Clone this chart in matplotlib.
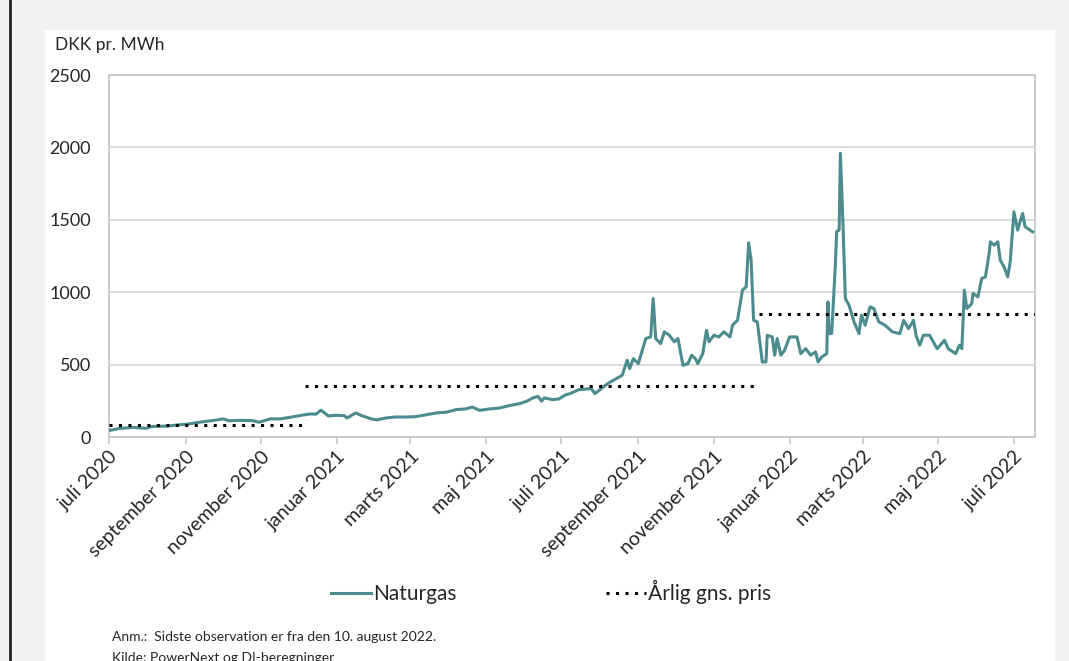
import matplotlib
matplotlib.use("Agg")
import matplotlib.pyplot as plt
import matplotlib.dates as mdates
import matplotlib.ticker as mticker
import pandas as pd

plt.rcParams['font.family'] = ['Lato', 'DejaVu Sans']

# Naturgas, DKK pr. MWh
dates = [
    "2020-07-01", "2020-07-09", "2020-07-20", "2020-07-31", "2020-08-05", "2020-08-16",
    "2020-08-27", "2020-09-04", "2020-09-12", "2020-09-23", "2020-10-01", "2020-10-06",
    "2020-10-14", "2020-10-25", "2020-10-30", "2020-11-08", "2020-11-16", "2020-11-24",
    "2020-12-02", "2020-12-10", "2020-12-15", "2020-12-19", "2020-12-25", "2020-12-31",
    "2021-01-07", "2021-01-09", "2021-01-16", "2021-01-21", "2021-01-29", "2021-02-02",
    "2021-02-09", "2021-02-17", "2021-02-25", "2021-03-05", "2021-03-14", "2021-03-22",
    "2021-03-30", "2021-04-07", "2021-04-15", "2021-04-20", "2021-04-26", "2021-05-04",
    "2021-05-12", "2021-05-20", "2021-05-28", "2021-06-03", "2021-06-08", "2021-06-12",
    "2021-06-15", "2021-06-17", "2021-06-24", "2021-06-29", "2021-07-04", "2021-07-08",
    "2021-07-15", "2021-07-25", "2021-07-28", "2021-08-08", "2021-08-19", "2021-08-23",
    "2021-08-25", "2021-08-28", "2021-09-01", "2021-09-07", "2021-09-11", "2021-09-13",
    "2021-09-15", "2021-09-19", "2021-09-22", "2021-09-26", "2021-09-30", "2021-10-03",
    "2021-10-07", "2021-10-11", "2021-10-14", "2021-10-17", "2021-10-19", "2021-10-23",
    "2021-10-26", "2021-10-28", "2021-11-01", "2021-11-05", "2021-11-09", "2021-11-14",
    "2021-11-16", "2021-11-20", "2021-11-24", "2021-11-27", "2021-11-29", "2021-12-01",
    "2021-12-03", "2021-12-06", "2021-12-10", "2021-12-13", "2021-12-14", "2021-12-18",
    "2021-12-20", "2021-12-22", "2021-12-25", "2021-12-28", "2022-01-01", "2022-01-07",
    "2022-01-10", "2022-01-14", "2022-01-18", "2022-01-22", "2022-01-24", "2022-01-27",
    "2022-01-31", "2022-02-01", "2022-02-02", "2022-02-04", "2022-02-07", "2022-02-08",
    "2022-02-10", "2022-02-11", "2022-02-13", "2022-02-15", "2022-02-18", "2022-02-22",
    "2022-02-26", "2022-02-28", "2022-03-03", "2022-03-07", "2022-03-10", "2022-03-14",
    "2022-03-19", "2022-03-25", "2022-03-31", "2022-04-03", "2022-04-07", "2022-04-11",
    "2022-04-13", "2022-04-16", "2022-04-19", "2022-04-24", "2022-04-30", "2022-05-06",
    "2022-05-09", "2022-05-15", "2022-05-18", "2022-05-20", "2022-05-22", "2022-05-24",
    "2022-05-28", "2022-05-29", "2022-06-02", "2022-06-05", "2022-06-08", "2022-06-11",
    "2022-06-12", "2022-06-15", "2022-06-18", "2022-06-20", "2022-06-23", "2022-06-26",
    "2022-06-28", "2022-07-01", "2022-07-04", "2022-07-08", "2022-07-10", "2022-07-16",
]
naturgas = [
    45, 58, 66, 60, 73, 75,
    84, 91, 102, 114, 125, 112,
    115, 113, 102, 125, 125, 136,
    148, 159, 158, 185, 145, 150,
    147, 131, 166, 147, 124, 118,
    131, 138, 138, 140, 154, 166,
    171, 189, 194, 207, 184, 194,
    200, 217, 230, 247, 270, 281,
    247, 270, 258, 263, 290, 300,
    327, 334, 300, 373, 426, 530,
    472, 541, 507, 680, 691, 956,
    680, 645, 726, 703, 657, 680,
    495, 507, 565, 541, 507, 576,
    737, 657, 703, 691, 726, 691,
    772, 806, 1014, 1037, 1341, 1221,
    806, 795, 518, 518, 703, 691,
    565, 680, 565, 599, 691, 691,
    576, 610, 565, 588, 518, 553,
    576, 933, 714, 714, 1198, 1417,
    1429, 1959, 1498, 956, 910, 795,
    714, 841, 772, 899, 887, 795,
    772, 726, 714, 806, 749, 806,
    703, 634, 703, 703, 610, 668,
    610, 576, 634, 610, 1014, 887,
    922, 991, 968, 1094, 1106, 1267,
    1348, 1325, 1348, 1221, 1175, 1106,
    1210, 1555, 1429, 1544, 1452, 1417,
]

# Årlig gns. pris: start, slut, niveau
avg_start = ["2020-07-01", "2020-12-06", "2021-12-07"]
avg_end = ["2020-12-06", "2021-12-07", "2022-07-18"]
avg_value = [80, 350, 846]

months_dk = ["januar", "februar", "marts", "april", "maj", "juni", "juli",
             "august", "september", "oktober", "november", "december"]

teal = "#4C8C8F"
grid_c = "#D9D9D9"

fig = plt.figure(figsize=(10.69, 6.61), dpi=100)
fig.patch.set_facecolor("#F2F2F2")

# hvidt panel + venstre kant
panel = plt.Rectangle((45 / 1069, 0), 1010 / 1069, 1 - 30 / 661,
                      transform=fig.transFigure, facecolor="white",
                      edgecolor="none", zorder=-5)
fig.add_artist(panel)
fig.add_artist(plt.Line2D([10 / 1069, 10 / 1069], [0, 1], transform=fig.transFigure,
                          color="#222222", lw=2))

ax = fig.add_axes([109 / 1069, 1 - 437 / 661, 926 / 1069, 362 / 661])
ax.set_facecolor("white")

x = pd.to_datetime(dates)
ax.plot(x, naturgas, color=teal, lw=2.2, label="Naturgas", zorder=3)

for i in range(len(avg_value)):
    ax.plot(pd.to_datetime([avg_start[i], avg_end[i]]), [avg_value[i], avg_value[i]],
            color="black", lw=2.2, linestyle=(0, (1, 2.1)), dash_capstyle="butt",
            label="Årlig gns. pris" if i == 0 else None, zorder=4)

ax.set_ylim(0, 2500)
ax.set_xlim(pd.Timestamp("2020-07-01"), pd.Timestamp("2022-07-18"))
ax.yaxis.set_major_locator(mticker.MultipleLocator(500))
ax.grid(axis="y", color=grid_c, lw=1.3)
ax.set_axisbelow(True)

ax.xaxis.set_major_locator(mdates.MonthLocator(bymonth=[1, 3, 5, 7, 9, 11]))
ax.xaxis.set_major_formatter(mticker.FuncFormatter(
    lambda v, p: "%s %d" % (months_dk[mdates.num2date(v).month - 1], mdates.num2date(v).year)))

for s in ax.spines.values():
    s.set_color("#C8C8C8")
    s.set_linewidth(1.3)

ax.tick_params(axis="y", length=0, labelsize=13, pad=13, colors="#262626")
ax.tick_params(axis="x", length=5, width=1.2, color="#C8C8C8", labelsize=14,
               labelcolor="#262626", pad=3)
for lab in ax.get_xticklabels():
    lab.set_rotation(45)
    lab.set_ha("right")
    lab.set_rotation_mode("anchor")

fig.text(55 / 1069, 1 - 45 / 661, "DKK pr. MWh", fontsize=12.5, va="center",
         ha="left", color="#262626")

leg = fig.legend(loc="center", bbox_to_anchor=(551 / 1069, 1 - 592 / 661), ncol=2,
                 frameon=False, fontsize=15, handlelength=1.9, handletextpad=0.1,
                 columnspacing=7.2)
for t in leg.get_texts():
    t.set_color("#262626")

fig.text(112 / 1069, 1 - 637 / 661, "Anm.:  Sidste observation er fra den 10. august 2022.",
         fontsize=10, va="center", ha="left", color="#262626")
fig.text(112 / 1069, 1 - 652 / 661, "Kilde: PowerNext og DI-beregninger",
         fontsize=10, va="top", ha="left", color="#262626")

fig.savefig("out.png", dpi=100, facecolor=fig.get_facecolor())
